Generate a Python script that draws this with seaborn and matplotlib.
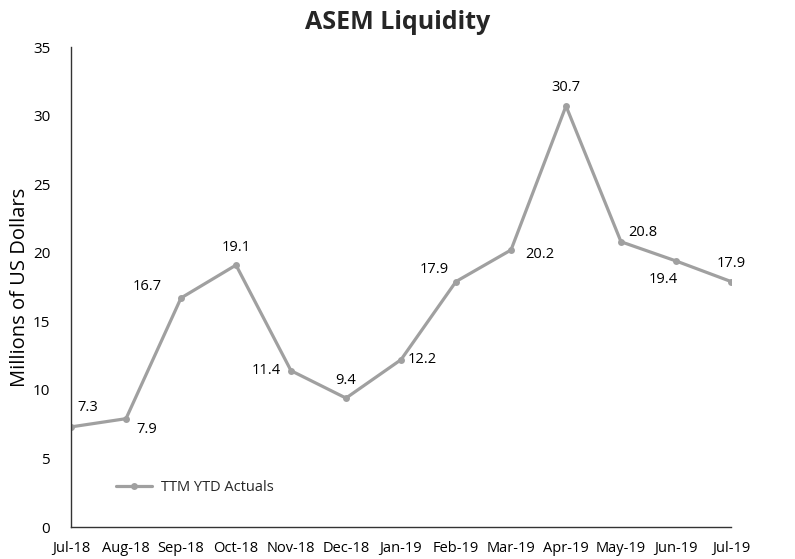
import matplotlib
matplotlib.use("Agg")
import matplotlib.pyplot as plt
import seaborn as sns
import pandas as pd

# data
months = ["Jul-18", "Aug-18", "Sep-18", "Oct-18", "Nov-18", "Dec-18", "Jan-19",
          "Feb-19", "Mar-19", "Apr-19", "May-19", "Jun-19", "Jul-19"]
values = [7.3, 7.9, 16.7, 19.1, 11.4, 9.4, 12.2, 17.9, 20.2, 30.7, 20.8, 19.4, 17.9]
yticks = [0, 5, 10, 15, 20, 25, 30, 35]

df = pd.DataFrame({"pos": range(len(months)), "month": months, "value": values})

sns.set_style("white")
plt.rcParams["font.family"] = ["Open Sans", "DejaVu Sans"]

fig = plt.figure(figsize=(7.95, 5.59), dpi=100)
ax = fig.add_axes([0.0893, 0.0572, 0.8302, 0.8587])

sns.lineplot(data=df, x="pos", y="value", ax=ax, color="#a0a0a0", linewidth=2.3,
             marker="o", markersize=5, markeredgewidth=0, label="TTM YTD Actuals")

# label offsets in points (readability tweaks per point)
offsets = [(12, 14), (15, -8), (-24, 8), (0, 13), (-18, 0), (0, 13), (15, 0),
           (-16, 9), (21, -3), (0, 13), (16, 7), (-9, -13), (0, 13)]
for i, (v, off) in enumerate(zip(values, offsets)):
    ax.annotate(f"{v:.1f}", (i, v), xytext=off, textcoords="offset points",
                ha="center", va="center", fontsize=10.5, color="black")

ax.set_xlim(0, len(months) - 1)
ax.set_ylim(0, 35)
ax.set_xticks(range(len(months)))
ax.set_xticklabels(months, fontsize=10.5)
ax.set_yticks(yticks)
ax.set_yticklabels([str(t) for t in yticks], fontsize=11)
ax.tick_params(axis="x", direction="in", length=5, width=1, colors="#333333", pad=10)
ax.tick_params(axis="y", direction="out", length=5, width=1, colors="#333333", pad=10)
for lbl in ax.get_xticklabels() + ax.get_yticklabels():
    lbl.set_color("black")
sns.despine(ax=ax)
for s in ["left", "bottom"]:
    ax.spines[s].set_color("#333333")
    ax.spines[s].set_linewidth(1)

ax.set_xlabel("")
ax.set_ylabel("Millions of US Dollars", fontsize=14.5, labelpad=2, color="black")
fig.suptitle("ASEM Liquidity", fontsize=18, fontweight="bold", y=0.982)

ax.legend(loc="center left", bbox_to_anchor=(0.048, 0.083), frameon=False, fontsize=10.5,
          handlelength=2.5, handletextpad=0.6)

fig.savefig("out.png", dpi=100)
